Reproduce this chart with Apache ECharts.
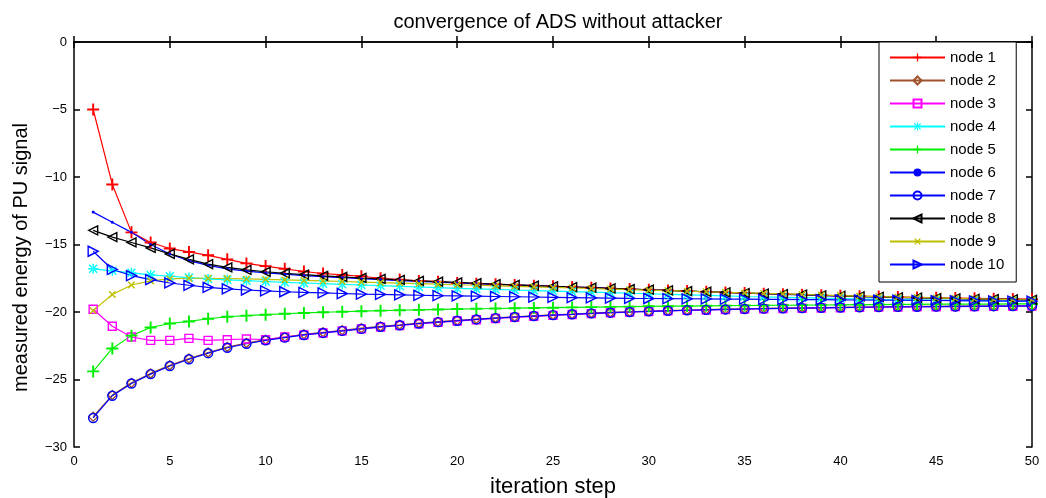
<!DOCTYPE html>
<html>
<head>
<meta charset="utf-8">
<script src="https://cdn.jsdelivr.net/npm/echarts@6/dist/echarts.min.js"></script>
<style>
html,body{margin:0;padding:0;background:#fff;}
#chart{width:1046px;height:498px;}
</style>
</head>
<body>
<div id="chart"></div>
<script>
const steps = [1,2,3,4,5,6,7,8,9,10,11,12,13,14,15,16,17,18,19,20,21,22,23,24,25,26,27,28,29,30,31,32,33,34,35,36,37,38,39,40,41,42,43,44,45,46,47,48,49,50];
const seriesNames = ['node 1','node 2','node 3','node 4','node 5','node 6','node 7','node 8','node 9','node 10'];

const node1 = [-5, -10.55, -14.1, -14.85, -15.3, -15.55, -15.8, -16.1, -16.4, -16.6,
 -16.8, -17.0, -17.15, -17.25, -17.35, -17.5, -17.6, -17.7, -17.75, -17.85,
 -17.9, -17.95, -18.0, -18.05, -18.1, -18.15, -18.2, -18.25, -18.3, -18.35,
 -18.4, -18.45, -18.5, -18.55, -18.6, -18.65, -18.68, -18.72, -18.76, -18.8,
 -18.83, -18.86, -18.89, -18.92, -18.95, -18.97, -18.99, -19.01, -19.03, -19.05];
const node2 = [-27.75, -26.15, -25.25, -24.55, -23.95, -23.45, -23.0, -22.6, -22.3, -22.05,
 -21.85, -21.65, -21.5, -21.35, -21.2, -21.07, -20.95, -20.82, -20.72, -20.62,
 -20.52, -20.43, -20.35, -20.28, -20.21, -20.15, -20.08, -20.03, -19.98, -19.93,
 -19.89, -19.85, -19.82, -19.79, -19.76, -19.73, -19.71, -19.69, -19.67, -19.65,
 -19.63, -19.61, -19.6, -19.59, -19.58, -19.57, -19.56, -19.55, -19.54, -19.53];
const node3 = [-19.8, -21.05, -21.85, -22.1, -22.1, -21.95, -22.1, -22.05, -22.0, -22.05,
 -21.85, -21.7, -21.55, -21.4, -21.25, -21.12, -21.0, -20.88, -20.77, -20.67,
 -20.57, -20.48, -20.4, -20.32, -20.25, -20.18, -20.12, -20.06, -20.01, -19.96,
 -19.92, -19.88, -19.85, -19.82, -19.79, -19.76, -19.74, -19.72, -19.7, -19.68,
 -19.66, -19.64, -19.63, -19.62, -19.61, -19.6, -19.59, -19.58, -19.57, -19.56];
const node4 = [-16.8, -16.95, -17.1, -17.25, -17.35, -17.45, -17.55, -17.62, -17.68, -17.74,
 -17.8, -17.85, -17.9, -17.95, -18.0, -18.05, -18.1, -18.15, -18.2, -18.25,
 -18.29, -18.33, -18.37, -18.41, -18.45, -18.49, -18.53, -18.57, -18.61, -18.65,
 -18.69, -18.73, -18.77, -18.81, -18.85, -18.88, -18.91, -18.94, -18.97, -19.0,
 -19.03, -19.06, -19.08, -19.1, -19.12, -19.14, -19.16, -19.18, -19.2, -19.22];
const node5 = [-24.4, -22.7, -21.75, -21.15, -20.85, -20.7, -20.5, -20.35, -20.27, -20.2,
 -20.13, -20.07, -20.02, -19.98, -19.94, -19.9, -19.87, -19.84, -19.81, -19.78,
 -19.76, -19.74, -19.72, -19.7, -19.68, -19.66, -19.64, -19.62, -19.6, -19.58,
 -19.57, -19.56, -19.54, -19.53, -19.52, -19.51, -19.5, -19.49, -19.48, -19.47,
 -19.46, -19.45, -19.44, -19.43, -19.42, -19.42, -19.41, -19.41, -19.4, -19.4];
const node6 = [-12.6, -13.35, -14.1, -15.0, -15.7, -16.2, -16.55, -16.8, -16.97, -17.1,
 -17.2, -17.3, -17.38, -17.46, -17.53, -17.6, -17.67, -17.73, -17.79, -17.85,
 -17.9, -17.95, -18.0, -18.05, -18.1, -18.15, -18.2, -18.25, -18.3, -18.35,
 -18.4, -18.45, -18.5, -18.55, -18.6, -18.65, -18.7, -18.74, -18.78, -18.82,
 -18.86, -18.9, -18.93, -18.96, -18.99, -19.02, -19.04, -19.06, -19.08, -19.1];
const node7 = [-27.85, -26.2, -25.3, -24.6, -24.0, -23.5, -23.05, -22.65, -22.35, -22.1,
 -21.9, -21.7, -21.55, -21.4, -21.25, -21.1, -20.98, -20.85, -20.75, -20.65,
 -20.55, -20.45, -20.37, -20.3, -20.23, -20.17, -20.1, -20.05, -20.0, -19.95,
 -19.91, -19.87, -19.84, -19.81, -19.78, -19.75, -19.73, -19.71, -19.69, -19.67,
 -19.65, -19.63, -19.62, -19.61, -19.6, -19.59, -19.58, -19.57, -19.56, -19.55];
const node8 = [-13.95, -14.45, -14.85, -15.25, -15.7, -16.1, -16.45, -16.7, -16.88, -17.02,
 -17.13, -17.23, -17.32, -17.4, -17.48, -17.55, -17.62, -17.69, -17.75, -17.81,
 -17.87, -17.93, -17.99, -18.05, -18.1, -18.15, -18.2, -18.25, -18.3, -18.35,
 -18.4, -18.45, -18.5, -18.55, -18.6, -18.64, -18.68, -18.72, -18.76, -18.8,
 -18.84, -18.88, -18.91, -18.94, -18.97, -19.0, -19.03, -19.05, -19.07, -19.1];
const node9 = [-19.9, -18.7, -18.0, -17.7, -17.55, -17.5, -17.5, -17.52, -17.55, -17.58,
 -17.62, -17.66, -17.7, -17.74, -17.78, -17.82, -17.86, -17.9, -17.94, -17.98,
 -18.02, -18.06, -18.1, -18.14, -18.18, -18.22, -18.26, -18.3, -18.34, -18.38,
 -18.42, -18.46, -18.5, -18.54, -18.58, -18.62, -18.66, -18.7, -18.74, -18.78,
 -18.82, -18.86, -18.9, -18.93, -18.96, -18.99, -19.02, -19.05, -19.08, -19.1];
const node10 = [-15.5, -16.85, -17.3, -17.6, -17.85, -18.02, -18.17, -18.28, -18.37, -18.44,
 -18.5, -18.55, -18.59, -18.63, -18.67, -18.7, -18.73, -18.76, -18.79, -18.81,
 -18.83, -18.85, -18.87, -18.89, -18.91, -18.93, -18.95, -18.97, -18.99, -19.0,
 -19.01, -19.02, -19.03, -19.04, -19.05, -19.06, -19.07, -19.08, -19.09, -19.1,
 -19.11, -19.12, -19.13, -19.14, -19.15, -19.16, -19.17, -19.18, -19.19, -19.2];

const allData = [node1,node2,node3,node4,node5,node6,node7,node8,node9,node10];
const colors = ['#ff0000','#a0522d','#ff00ff','#00ffff','#00ee00','#0000ff','#0000ff','#000000','#bfbf00','#0000ff'];

const PLUS = 'path://M4.2,0 L5.8,0 L5.8,4.2 L10,4.2 L10,5.8 L5.8,5.8 L5.8,10 L4.2,10 L4.2,5.8 L0,5.8 L0,4.2 L4.2,4.2 Z';
const STAR = 'path://M4.3,0 L5.7,0 L5.7,4.3 L10,4.3 L10,5.7 L5.7,5.7 L5.7,10 L4.3,10 L4.3,5.7 L0,5.7 L0,4.3 L4.3,4.3 Z M1.5,0.5 L0.5,1.5 L8.5,9.5 L9.5,8.5 Z M8.5,0.5 L9.5,1.5 L1.5,9.5 L0.5,8.5 Z';
const TRANSP = 'rgba(0,0,0,0)';
const markers = [
  {symbol: PLUS, size: 12, rotate: 0, hollow: false},
  {symbol: 'diamond', size: 9, rotate: 0, hollow: true},
  {symbol: 'rect', size: 8, rotate: 0, hollow: true},
  {symbol: STAR, size: 10, rotate: 0, hollow: false},
  {symbol: PLUS, size: 12, rotate: 0, hollow: false},
  {symbol: 'circle', size: 3, rotate: 0, hollow: false},
  {symbol: 'circle', size: 9, rotate: 0, hollow: true},
  {symbol: 'triangle', size: 9, rotate: 90, hollow: true},
  {symbol: PLUS, size: 9, rotate: 45, hollow: false},
  {symbol: 'triangle', size: 10, rotate: -90, hollow: true}
];

const series = seriesNames.map((name, i) => {
  const m = markers[i];
  return {
    name: name,
    type: 'line',
    xAxisIndex: 0,
    yAxisIndex: 0,
    data: steps.map((s, k) => [s, allData[i][k]]),
    symbol: m.symbol,
    symbolSize: m.size,
    symbolRotate: m.rotate,
    showAllSymbol: true,
    lineStyle: {color: colors[i], width: 1.2},
    itemStyle: m.hollow
      ? {color: TRANSP, borderColor: colors[i], borderWidth: 1.4}
      : {color: colors[i], borderWidth: 0},
    emphasis: {disabled: true}
  };
});

const FONT = 'Liberation Sans, Arial, sans-serif';
const chart = echarts.init(document.getElementById('chart'), null, {renderer: 'canvas'});
chart.setOption({
  animation: false,
  backgroundColor: '#fff',
  title: {
    text: 'convergence of ADS without attacker',
    left: 553, top: 7, textAlign: 'center',
    textStyle: {fontFamily: FONT, fontSize: 20, fontWeight: 'normal', color: '#000'}
  },
  grid: {left: 74, right: 14, top: 42, bottom: 51, containLabel: false, outerBoundsMode: 'none'},
  legend: {
    orient: 'vertical',
    left: 879, top: 42,
    padding: [8, 12, 10, 10],
    itemGap: 8,
    itemWidth: 55,
    itemHeight: 10,
    borderColor: '#000', borderWidth: 1,
    backgroundColor: '#fff',
    borderRadius: 0,
    textStyle: {fontFamily: FONT, fontSize: 15, lineHeight: 15, color: '#000'},
    data: seriesNames
  },
  xAxis: [{
    type: 'value', min: 0, max: 50, interval: 5,
    name: 'iteration step', nameLocation: 'middle', nameGap: 29,
    nameTextStyle: {fontFamily: FONT, fontSize: 22, color: '#000'},
    axisLine: {show: true, lineStyle: {color: '#000', width: 1.5}},
    axisTick: {show: true, inside: true, length: 6, lineStyle: {color: '#000', width: 1.5}},
    axisLabel: {fontFamily: FONT, fontSize: 13, color: '#000', margin: 8},
    splitLine: {show: false}
  }, {
    type: 'value', min: 0, max: 50, interval: 5, position: 'top',
    axisLine: {show: true, onZero: false, lineStyle: {color: '#000', width: 1.5}},
    axisTick: {show: true, inside: true, length: 6, lineStyle: {color: '#000', width: 1.5}},
    axisLabel: {show: false},
    splitLine: {show: false}
  }],
  yAxis: [{
    type: 'value', min: -30, max: 0, interval: 5,
    name: 'measured energy of PU signal', nameLocation: 'middle', nameGap: 43,
    nameTextStyle: {fontFamily: FONT, fontSize: 20, color: '#000', padding: [0, 26, 0, 0]},
    axisLine: {show: true, onZero: false, lineStyle: {color: '#000', width: 1.5}},
    axisTick: {show: true, inside: true, length: 6, lineStyle: {color: '#000', width: 1.5}},
    axisLabel: {fontFamily: FONT, fontSize: 13, color: '#000', margin: 7,
      formatter: v => String(v).replace('-', '\u2212')},
    splitLine: {show: false}
  }, {
    type: 'value', min: -30, max: 0, interval: 5, position: 'right',
    axisLine: {show: true, onZero: false, lineStyle: {color: '#000', width: 1.5}},
    axisTick: {show: true, inside: true, length: 6, lineStyle: {color: '#000', width: 1.5}},
    axisLabel: {show: false},
    splitLine: {show: false}
  }],
  series: series
});
</script>
</body>
</html>
